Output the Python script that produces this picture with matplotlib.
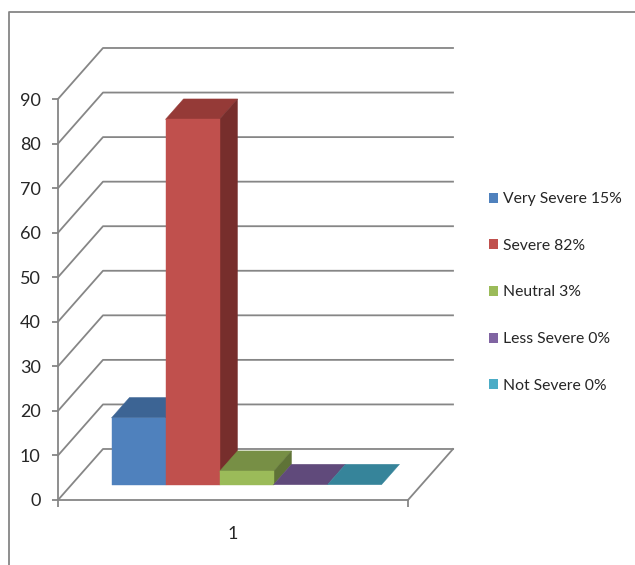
import matplotlib
matplotlib.use('Agg')
import matplotlib.pyplot as plt
from matplotlib.lines import Line2D
from matplotlib.patches import Patch, Polygon

severity = ['Very Severe 15%', 'Severe 82%', 'Neutral 3%', 'Less Severe 0%', 'Not Severe 0%']
percent = [15, 82, 3, 0, 0]
y_ticks = [0, 10, 20, 30, 40, 50, 60, 70, 80, 90]
category = 1

front_colors = ['#4f81bd', '#c0504d', '#9bbb59', '#8064a2', '#4bacc6']
top_colors = ['#3c6494', '#953a37', '#778f45', '#604a7b', '#36849a']
side_colors = ['#2f5078', '#772e2c', '#5f7337', '#4d3b63', '#2b6a7c']

GRAY = '#868686'
TEXT = '#262626'
FONT = ['Lato', 'DejaVu Sans']
WALL_X = 45 / 350  # how far the back wall is shifted, axis units
WALL_Y = 51 / 4.455
BAR_W = 54 / 350


def shift(x, y, depth):
    return x + depth * WALL_X, y + depth * WALL_Y


def face(ax, points, color, z):
    ax.add_patch(Polygon(points, closed=True, facecolor=color, edgecolor=color,
                         linewidth=0.3, clip_on=False, zorder=z))


def draw_bar(ax, left, value, colors, z):
    right = left + BAR_W
    d0, d1 = 0.3, 0.7
    face(ax, [shift(left, value, d0), shift(right, value, d0),
              shift(right, value, d1), shift(left, value, d1)], colors[1], z)
    if value > 0:
        face(ax, [shift(right, 0, d0), shift(right, value, d0),
                  shift(right, value, d1), shift(right, 0, d1)], colors[2], z)
        face(ax, [shift(left, 0, d0), shift(right, 0, d0),
                  shift(right, value, d0), shift(left, value, d0)], colors[0], z + 0.1)


def main():
    fig = plt.figure(figsize=(6.35, 5.65), dpi=100)
    ax = fig.add_axes([58 / 635, 65 / 565, 350 / 635, 401 / 565])
    ax.set_xlim(0.5, 1.5)
    ax.set_ylim(0, 90)

    # chart area border, open at the right and the bottom
    fig.add_artist(Line2D([9 / 635, 9 / 635, 1], [0, 1 - 12 / 565, 1 - 12 / 565],
                          color=GRAY, linewidth=1.3))

    for s in ['top', 'right']:
        ax.spines[s].set_visible(False)
    for s in ['left', 'bottom']:
        ax.spines[s].set_color(GRAY)
        ax.spines[s].set_linewidth(1.3)

    ax.set_yticks(y_ticks)
    ax.set_xticks([category])
    ax.set_xticks([0.5, 1.5], minor=True)
    ax.tick_params(axis='y', length=4.5, width=1.3, color=GRAY, pad=8,
                   labelsize=13, labelcolor=TEXT)
    ax.tick_params(axis='x', which='major', length=0, pad=19, labelsize=13, labelcolor=TEXT)
    ax.tick_params(axis='x', which='minor', length=5, width=1.3, color=GRAY)
    for label in ax.get_xticklabels() + ax.get_yticklabels():
        label.set_family(FONT)

    # side wall diagonals and back wall gridlines
    for tick in y_ticks:
        x0, y0 = shift(0.5, tick, 0)
        x1, y1 = shift(0.5, tick, 1)
        x2, y2 = shift(1.5, tick, 1)
        ax.plot([x0, x1, x2], [y0, y1, y2], color=GRAY, linewidth=1.3, clip_on=False, zorder=1)
    x0, y0 = shift(1.5, 0, 0)
    x1, y1 = shift(1.5, 0, 1)
    ax.plot([x0, x1], [y0, y1], color=GRAY, linewidth=1.3, clip_on=False, zorder=1)

    group_left = category - len(percent) * BAR_W / 2
    for i, value in enumerate(percent):
        colors = (front_colors[i], top_colors[i], side_colors[i])
        draw_bar(ax, group_left + i * BAR_W, value, colors, 3 + i)

    handles = [Patch(facecolor=c, edgecolor=c, linewidth=0) for c in front_colors]
    ax.legend(handles, severity, loc='center left', bbox_to_anchor=(489 / 635, 1 - 292.5 / 565),
              bbox_transform=fig.transFigure, frameon=False, labelspacing=2.08,
              handlelength=0.6, handleheight=0.6, handletextpad=0.32, borderpad=0, borderaxespad=0,
              labelcolor=TEXT, prop={'family': FONT, 'size': 11.3})

    fig.savefig('out.png', dpi=100)


if __name__ == "__main__":
    main()
